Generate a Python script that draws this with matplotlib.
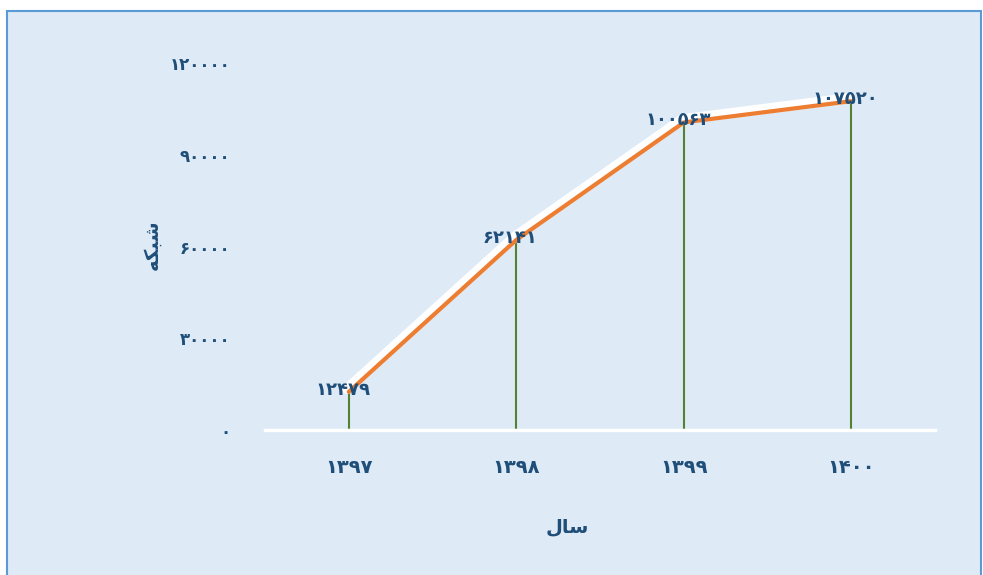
import matplotlib
matplotlib.use("Agg")
import matplotlib.pyplot as plt
import matplotlib.transforms as mtransforms
from matplotlib.patches import Rectangle
from matplotlib.ticker import FuncFormatter

plt.rcParams['font.family'] = ['DejaVu Sans']

# data
years = ['1397', '1398', '1399', '1400']
values = [12479, 62141, 100563, 107520]
y_ticks = [0, 30000, 60000, 90000, 120000]

# Persian text in presentation forms (matplotlib does no shaping)
x_title = '\uFEDD\uFE8E\uFEB3'            # سال
y_title = '\uFEEA\uFB91\uFE92\uFEB7'      # شبکه

fa_digits = str.maketrans('0123456789', '۰۱۲۳۴۵۶۷۸۹')


def fa(s):
    return str(s).translate(fa_digits)


text_col = '#1F4E79'
bg = '#DEEAF6'

fig = plt.figure(figsize=(9.83, 5.75), dpi=100)
fig.patch.set_facecolor('white')
fig.patches.append(Rectangle((7 / 983, -0.02), 974 / 983, 564 / 575 + 0.02, transform=fig.transFigure,
                             facecolor=bg, edgecolor='#5B9BD5', linewidth=1.5, zorder=-10))

ax = fig.add_axes([265 / 983, 145 / 575, 670 / 983, 367 / 575])
ax.set_facecolor(bg)
ax.patch.set_alpha(0)

x = list(range(len(years)))

# drop lines
ax.vlines(x, 0, values, color='#548235', linewidth=1.5, zorder=2)

# white shadow + orange line
shadow = mtransforms.offset_copy(ax.transData, fig=fig, x=-1.5, y=3, units='dots')
ax.plot(x, values, color='white', linewidth=7.5, transform=shadow, zorder=3,
        solid_joinstyle='round', solid_capstyle='round')
ax.plot(x, values, color='#ED7D31', linewidth=3, zorder=4,
        solid_joinstyle='round', solid_capstyle='round')

for xi, v in zip(x, values):
    ax.annotate(fa(v), (xi, v), xytext=(-6, 2), textcoords='offset pixels',
                ha='center', va='center', fontsize=13, fontweight='bold',
                color=text_col, zorder=5)

ax.set_xlim(-0.5, 3.5)
ax.set_ylim(0, 120000)
ax.set_xticks(x)
ax.set_xticklabels([fa(y) for y in years])
ax.set_yticks(y_ticks)
ax.yaxis.set_major_formatter(FuncFormatter(lambda v, p: fa(int(v))))

for s in ['top', 'right', 'left']:
    ax.spines[s].set_visible(False)
ax.spines['bottom'].set_color('white')
ax.spines['bottom'].set_linewidth(2.5)
ax.tick_params(axis='both', length=0, colors=text_col, labelsize=12)
ax.tick_params(axis='x', pad=20, labelsize=14)
ax.tick_params(axis='y', pad=25)
for lbl in ax.get_xticklabels() + ax.get_yticklabels():
    lbl.set_fontweight('bold')

fig.text(567 / 983, 1 - 527 / 575, x_title, ha='center', va='center',
         fontsize=14, fontweight='bold', color=text_col)
fig.text(152 / 983, 1 - 245 / 575, y_title, ha='center', va='center', rotation=90,
         fontsize=14, fontweight='bold', color=text_col)

fig.savefig('out.png', dpi=100, facecolor=fig.get_facecolor())
